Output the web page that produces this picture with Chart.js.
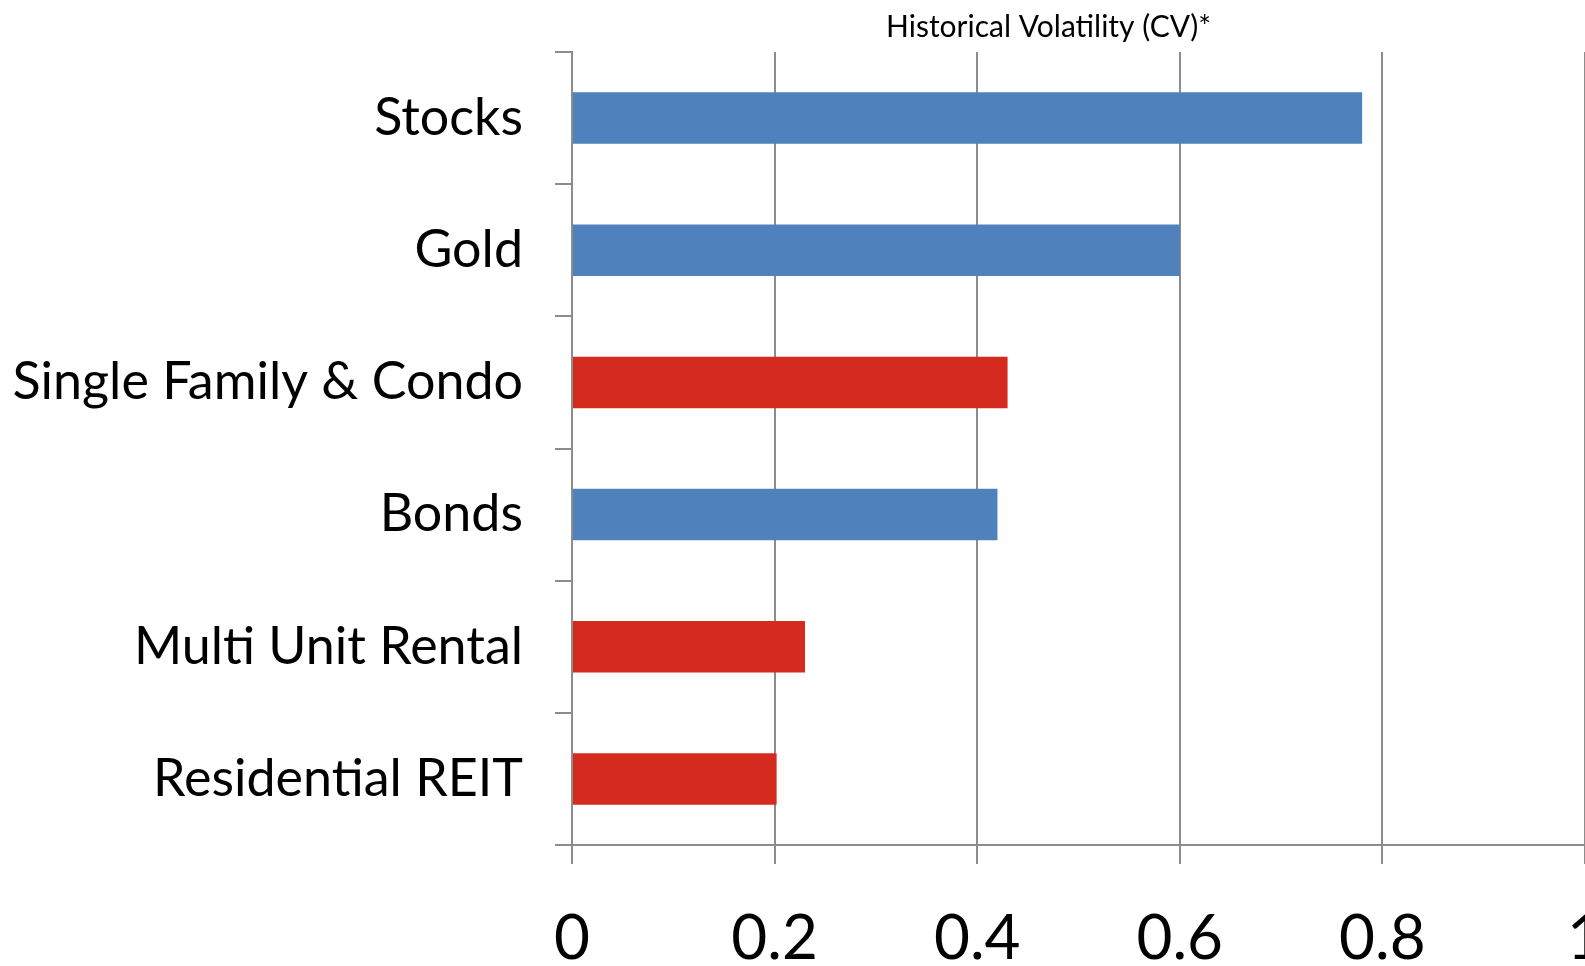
<!DOCTYPE html>
<html>
<head>
<meta charset="utf-8">
<script src="https://cdn.jsdelivr.net/npm/chart.js@4/dist/chart.umd.min.js"></script>
<style>
  html, body { margin: 0; padding: 0; background: #ffffff; }
  #wrap { width: 1585px; height: 966px; }
</style>
</head>
<body>
<div id="wrap"><canvas id="c" width="1585" height="966"></canvas></div>
<script>
const categories = ["Stocks", "Gold", "Single Family & Condo", "Bonds", "Multi Unit Rental", "Residential REIT"];
const volatility = [0.78, 0.60, 0.43, 0.42, 0.23, 0.202];
const barColors = ["#4F81BD", "#4F81BD", "#D52B1F", "#4F81BD", "#D52B1F", "#D52B1F"];
const xTicks = [0, 0.2, 0.4, 0.6, 0.8, 1];
const titleText = "Historical Volatility (CV)*";

const gridColor = "#8c8c8c";

const titleShift = {
  id: "titleShift",
  afterLayout(chart) {
    if (chart.titleBlock) { chart.titleBlock.left -= 60; }
  }
};

new Chart(document.getElementById("c"), {
  type: "bar",
  data: {
    labels: categories,
    datasets: [{
      data: volatility,
      backgroundColor: barColors,
      borderWidth: 0,
      barPercentage: 0.39,
      categoryPercentage: 1.0
    }]
  },
  plugins: [titleShift],
  options: {
    indexAxis: "y",
    responsive: false,
    animation: false,
    layout: { padding: 0 },
    plugins: {
      legend: { display: false },
      tooltip: { enabled: false },
      title: {
        display: true,
        text: titleText,
        fullSize: false,
        color: "#000000",
        font: { family: "Lato", size: 30, weight: "normal" },
        padding: { top: 9, bottom: 7 }
      }
    },
    scales: {
      x: {
        type: "linear",
        position: "bottom",
        min: xTicks[0],
        max: xTicks[xTicks.length - 1],
        afterBuildTicks: (s) => { s.ticks = xTicks.map(v => ({ value: v })); },
        afterFit: (s) => { s.paddingRight = 0; s.height = 121; },
        grid: {
          color: gridColor,
          lineWidth: 2,
          drawOnChartArea: true,
          drawTicks: true,
          tickLength: 19
        },
        border: { display: true, color: gridColor, width: 2 },
        ticks: {
          color: "#000000",
          font: { family: "Lato", size: 62 },
          padding: 38,
          maxRotation: 0,
          callback: (v) => String(v)
        }
      },
      y: {
        type: "category",
        afterFit: (s) => { s.width = 572; s.paddingTop = 0; s.paddingBottom = 0; },
        grid: {
          offset: true,
          color: gridColor,
          lineWidth: 2,
          drawOnChartArea: false,
          drawTicks: true,
          tickLength: 17
        },
        border: { display: true, color: gridColor, width: 2 },
        ticks: {
          color: "#000000",
          font: { family: "Lato", size: 52 },
          padding: 32
        }
      }
    }
  }
});
</script>
</body>
</html>
